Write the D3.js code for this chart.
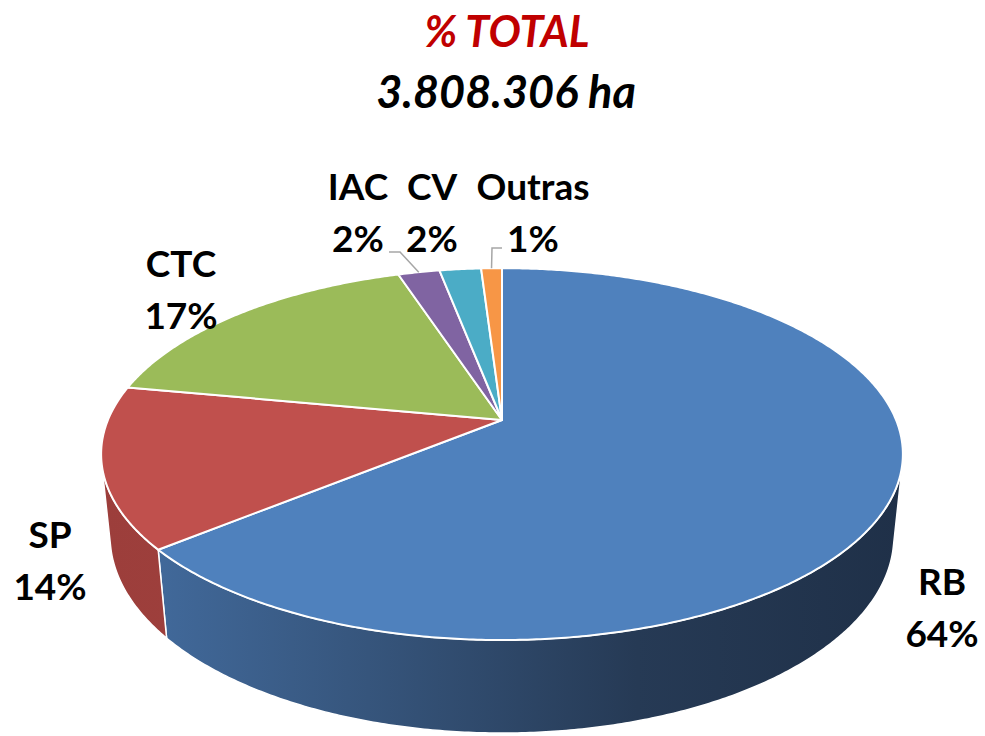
<!DOCTYPE html>
<html>
<head>
<meta charset="utf-8">
<script src="https://cdn.jsdelivr.net/npm/d3@7"></script>
<style>
  body { margin: 0; background: #fff; }
  text { font-family: Lato, "Open Sans", sans-serif; font-weight: 700; }
</style>
</head>
<body>
<div id="chart"></div>
<script>
// data
var categories = ["RB", "SP", "CTC", "IAC", "CV", "Outras"];
var shares = [64, 14, 17, 2, 2, 1];
var shareLabels = ["64%", "14%", "17%", "2%", "2%", "1%"];
var titleLine1 = "% TOTAL";
var titleLine2 = "3.808.306 ha";

var width = 985, height = 736;

var topColor = d3.scaleOrdinal()
    .domain(categories)
    .range(["#4F81BD", "#C0504D", "#9BBB59", "#8064A2", "#4BACC6", "#F79646"]);

// label anchor spots (centre x, baseline of first line)
var labelPos = {
  RB:     {x: 942, y: 595},
  SP:     {x: 50,  y: 548},
  CTC:    {x: 181, y: 277},
  IAC:    {x: 358, y: 200},
  CV:     {x: 432, y: 200},
  Outras: {x: 533, y: 200}
};
// leader lines start here (only the thin slices have them)
var leaderStart = {
  IAC:    [[389, 252], [400, 252]],
  Outras: [[502, 248], [492, 248]]
};

var svg = d3.select("#chart").append("svg")
    .attr("width", width)
    .attr("height", height);

// simple perspective camera for the 3d pie
var cx = 502, cy = 420, f = 1913, r = 0.206,
    cosP = 0.89, sinP = 0.456, thick = 0.0487;

function proj(theta, h) {
  var X = r * Math.sin(theta), Z = r * Math.cos(theta);
  var depth = 1 + Z * cosP + h * sinP;
  return [cx + f * X / depth, cy - f * (Z * sinP - h * cosP) / depth];
}

function arcPoints(a0, a1, h) {
  var n = Math.max(2, Math.ceil(Math.abs(a1 - a0) / (Math.PI / 360)));
  return d3.range(n + 1).map(function(i) { return proj(a0 + (a1 - a0) * i / n, h); });
}

var pie = d3.pie().sort(null).value(function(d) { return d.value; });
var data = categories.map(function(c, i) { return {name: c, value: shares[i], label: shareLabels[i]}; });
var arcs = pie(data);

var line = d3.line();

// gradients for the visible wall
var defs = svg.append("defs");
var wallStops = {
  RB: ["#446EA2", "#36557C", "#263A55", "#1F3048"],
  SP: ["#9C3E3B", "#A1413E", "#A54442", "#A84644"]
};
Object.keys(wallStops).forEach(function(k) {
  var g = defs.append("linearGradient")
      .attr("id", "wall" + k)
      .attr("gradientUnits", "userSpaceOnUse")
      .attr("x1", 100).attr("x2", 905).attr("y1", 0).attr("y2", 0);
  wallStops[k].forEach(function(c, i) {
    g.append("stop").attr("offset", i / 3).attr("stop-color", c);
  });
});

// visible range of the outer wall
var vis0 = Math.acos(-r / cosP), vis1 = 2 * Math.PI - vis0;

arcs.forEach(function(d) {
  var a = Math.max(d.startAngle, vis0), b = Math.min(d.endAngle, vis1);
  if (b <= a) return;
  var pts = arcPoints(a, b, 0).concat(arcPoints(b, a, thick));
  svg.append("path")
      .attr("d", line(pts) + "Z")
      .attr("fill", wallStops[d.data.name] ? "url(#wall" + d.data.name + ")" : topColor(d.data.name))
      .attr("stroke", "#fff")
      .attr("stroke-width", 1.5)
      .attr("stroke-linejoin", "round");
});

// top faces
arcs.forEach(function(d) {
  var pts = [[cx, cy]].concat(arcPoints(d.startAngle, d.endAngle, 0));
  svg.append("path")
      .attr("d", line(pts) + "Z")
      .attr("fill", topColor(d.data.name))
      .attr("stroke", "#fff")
      .attr("stroke-width", 2)
      .attr("stroke-linejoin", "round");
});

// leader lines
arcs.forEach(function(d) {
  var s = leaderStart[d.data.name];
  if (!s) return;
  var mid = (d.startAngle + d.endAngle) / 2;
  svg.append("path")
      .attr("d", line(s.concat([proj(mid, 0)])))
      .attr("fill", "none")
      .attr("stroke", "#A6A6A6")
      .attr("stroke-width", 1.5);
});

// labels
arcs.forEach(function(d) {
  var p = labelPos[d.data.name];
  var t = svg.append("text")
      .attr("x", p.x)
      .attr("y", p.y)
      .attr("text-anchor", "middle")
      .attr("font-size", 37)
      .attr("fill", "#000");
  t.append("tspan").attr("x", p.x).text(d.data.name);
  t.append("tspan").attr("x", p.x).attr("dy", 52).text(d.data.label);
});

// title
svg.append("text")
    .attr("x", 507).attr("y", 47)
    .attr("text-anchor", "middle")
    .attr("font-size", 43)
    .attr("font-style", "italic")
    .attr("fill", "#C00000")
    .text(titleLine1);

svg.append("text")
    .attr("x", 506).attr("y", 108)
    .attr("text-anchor", "middle")
    .attr("font-size", 45)
    .attr("font-style", "italic")
    .attr("fill", "#000")
    .text(titleLine2);
</script>
</body>
</html>
